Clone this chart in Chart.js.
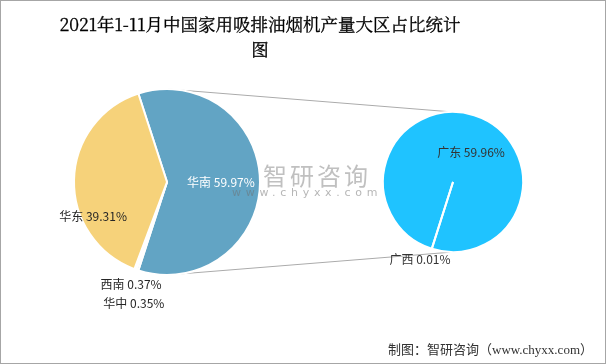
<!DOCTYPE html>
<html><head><meta charset="utf-8">
<script src="https://cdn.jsdelivr.net/npm/chart.js@4/dist/chart.umd.min.js"></script>
<style>
html,body{margin:0;padding:0;background:#fff;}
#wrap{position:relative;width:606px;height:364px;overflow:hidden;background:#fff;}
#frame{position:absolute;left:0;top:0;width:606px;height:364px;box-sizing:border-box;border:1px solid #A6A6A6;pointer-events:none;z-index:10;}
.abs{position:absolute;}
#title{left:40px;top:11px;width:440px;text-align:center;font-size:17.5px;line-height:25px;color:#000;font-family:"Noto Serif CJK SC","Liberation Serif","Noto Sans CJK SC",serif;white-space:nowrap;z-index:5;-webkit-text-stroke:0.3px #000;}
#footer{right:13px;top:342px;font-size:13px;line-height:16px;color:#333;font-family:"Liberation Serif","Noto Sans CJK SC",serif;white-space:nowrap;z-index:5;}
#wm1{left:263px;top:163px;font-size:24px;line-height:24px;letter-spacing:3px;color:rgba(130,130,130,0.5);font-family:"Noto Sans CJK SC",sans-serif;white-space:nowrap;z-index:4;pointer-events:none;}
#wm2{left:232px;top:187px;font-size:11px;line-height:12px;letter-spacing:4.7px;color:rgba(110,110,110,0.5);font-family:"DejaVu Sans",sans-serif;white-space:nowrap;z-index:4;pointer-events:none;}
</style></head><body>
<div id="wrap">
  <canvas id="lines" class="abs" width="606" height="364" style="left:0;top:0;z-index:0"></canvas>
  <canvas id="left" class="abs" width="334" height="284" style="left:0;top:40px;z-index:1"></canvas>
  <canvas id="right" class="abs" width="246" height="284" style="left:330px;top:40px;z-index:2"></canvas>
  <div id="title" class="abs">2021年1-11月中国家用吸排油烟机产量大区占比统计<br>图</div>
  <div id="wm1" class="abs">智研咨询</div>
  <div id="wm2" class="abs">www.chyxx.com</div>
  <div id="footer" class="abs">制图：智研咨询（www.chyxx.com）</div>
  <div id="frame"></div>
</div>
<script>
// ---- data ----
const regionLabels = ['华南', '西南', '华中', '华东'];
const regionValues = [59.97, 0.37, 0.35, 39.31];
const provinceLabels = ['广东', '广西'];
const provinceValues = [59.96, 0.01];

// ---- styles ----
const regionColors = ['#62A4C4', '#D9D9D9', '#C9C9C9', '#F6D27A'];
const provinceColors = ['#1FC3FF', '#1FC3FF'];

const labelPlugin = {
  id: 'sliceLabels',
  afterDatasetsDraw(chart, args, opts) {
    const meta = chart.getDatasetMeta(0);
    const ctx = chart.ctx;
    const labels = chart.data.labels;
    const vals = chart.data.datasets[0].data;
    meta.data.forEach((arc, i) => {
      const p = opts.places[i];
      if (!p) return;
      const r = arc.outerRadius * p.r;
      const a = p.angle * Math.PI / 180;
      const x = arc.x + r * Math.cos(a);
      const y = arc.y + r * Math.sin(a);
      ctx.save();
      ctx.font = opts.font;
      ctx.fillStyle = p.color;
      ctx.textAlign = 'center';
      ctx.textBaseline = 'middle';
      ctx.fillText(labels[i] + ' ' + vals[i].toFixed(2) + '%', x, y);
      ctx.restore();
    });
  }
};

const regionTotal = regionValues.reduce((a, b) => a + b, 0);

const leftChart = new Chart(document.getElementById('left'), {
  type: 'pie',
  data: {
    labels: regionLabels,
    datasets: [{
      data: regionValues,
      backgroundColor: regionColors,
      borderColor: '#ffffff',
      borderWidth: 2
    }]
  },
  options: {
    responsive: false,
    animation: false,
    events: [],
    radius: 93,
    rotation: 90 - regionValues[0] / regionTotal * 180,
    layout: { padding: 0 },
    plugins: {
      legend: { display: false },
      tooltip: { enabled: false },
      sliceLabels: {
        font: '12px "Noto Sans CJK SC", sans-serif',
        places: [
          { angle: 0, r: 0.58, color: '#ffffff' },
          { angle: 109.4, r: 1.163, color: '#262626' },
          { angle: 105.3, r: 1.349, color: '#262626' },
          { angle: 155.3, r: 0.875, color: '#262626' }
        ]
      }
    }
  },
  plugins: [labelPlugin]
});

const rightChart = new Chart(document.getElementById('right'), {
  type: 'pie',
  data: {
    labels: provinceLabels,
    datasets: [{
      data: provinceValues,
      backgroundColor: provinceColors,
      borderColor: '#ffffff',
      borderWidth: 2
    }]
  },
  options: {
    responsive: false,
    animation: false,
    events: [],
    radius: 70,
    rotation: 197.66,
    layout: { padding: 0 },
    plugins: {
      legend: { display: false },
      tooltip: { enabled: false },
      sliceLabels: {
        font: '12px "Noto Sans CJK SC", sans-serif',
        places: [
          { angle: -59, r: 0.5, color: '#333333' },
          { angle: 113.2, r: 1.197, color: '#333333' }
        ]
      }
    }
  },
  plugins: [labelPlugin]
});

// connector lines between the two pies, from the charts' own arc geometry
(function drawConnectors() {
  const lc = document.getElementById('left');
  const rc = document.getElementById('right');
  const L = leftChart.getDatasetMeta(0).data[0];
  const R = rightChart.getDatasetMeta(0).data[0];
  const lx = L.x + lc.offsetLeft, ly = L.y + lc.offsetTop;
  const rx = R.x + rc.offsetLeft, ry = R.y + rc.offsetTop;
  const ctx = document.getElementById('lines').getContext('2d');
  ctx.strokeStyle = '#ABABAB';
  ctx.lineWidth = 1;
  ctx.beginPath();
  ctx.moveTo(lx, ly - L.outerRadius);
  ctx.lineTo(rx, ry - R.outerRadius);
  ctx.moveTo(lx, ly + L.outerRadius);
  ctx.lineTo(rx, ry + R.outerRadius);
  ctx.stroke();
})();
</script>
</body></html>
